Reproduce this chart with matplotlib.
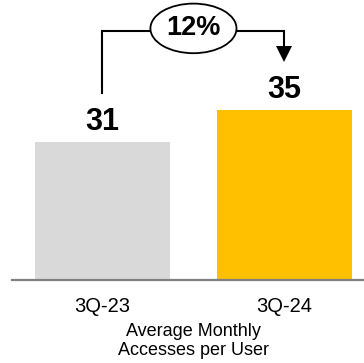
import numpy as np
import matplotlib
matplotlib.use("Agg")
import matplotlib.pyplot as plt
from matplotlib.patches import Ellipse

plt.rcParams["font.family"] = ["Liberation Sans", "DejaVu Sans"]

periods = ["3Q-23", "3Q-24"]
accesses = [31, 35]
growth_label = "12%"
bar_colors = ["#D9D9D9", "#FFC000"]
axis_label = "Average Monthly\nAccesses per User"

fig = plt.figure(figsize=(3.64, 3.63), dpi=100)
ax = fig.add_axes([12 / 364, 83 / 363, 352 / 364, 280 / 363])

x = np.arange(len(periods))
ax.bar(x, accesses, width=0.742, color=bar_colors, zorder=2)
ax.set_xlim(-0.497, 1.437)
ax.set_ylim(13.75, 48.75)

for xi, v in zip(x, accesses):
    ax.annotate(str(v), (xi, v), xytext=(0, 8.6), textcoords="offset points",
                ha="center", va="baseline", fontsize=22, fontweight="bold")

# growth bracket
y_start = accesses[0] + 6.1
y_top = max(accesses) + 9.9
y_tip = accesses[1] + 6.0
ax.plot([x[0], x[0], x[1], x[1]], [y_start, y_top, y_top, y_tip + 1.2],
        color="black", lw=1.5, solid_joinstyle="miter", zorder=3)
ax.plot([x[1]], [y_tip + 0.95], marker="v", markersize=11, color="black",
        markeredgewidth=0, zorder=3)
xm = (x[0] + x[1]) / 2
ax.add_patch(Ellipse((xm, y_top + 0.3), 0.473, 6.2, facecolor="white",
                     edgecolor="black", lw=1.3, zorder=4))
ax.text(xm, y_top + 0.3, growth_label, ha="center", va="center",
        fontsize=19.5, fontweight="bold", zorder=5)

for s in ["top", "left", "right"]:
    ax.spines[s].set_visible(False)
ax.spines["bottom"].set_color("#808080")
ax.spines["bottom"].set_linewidth(1.6)
ax.set_yticks([])
ax.set_xticks(x)
ax.set_xticklabels(periods, fontsize=14.5)
ax.tick_params(axis="x", length=0, pad=12)
fig.text(193 / 364, 1 - 341 / 363, axis_label, ha="center",
         va="center", fontsize=13, linespacing=1.2)

fig.savefig("out.png", dpi=100)
